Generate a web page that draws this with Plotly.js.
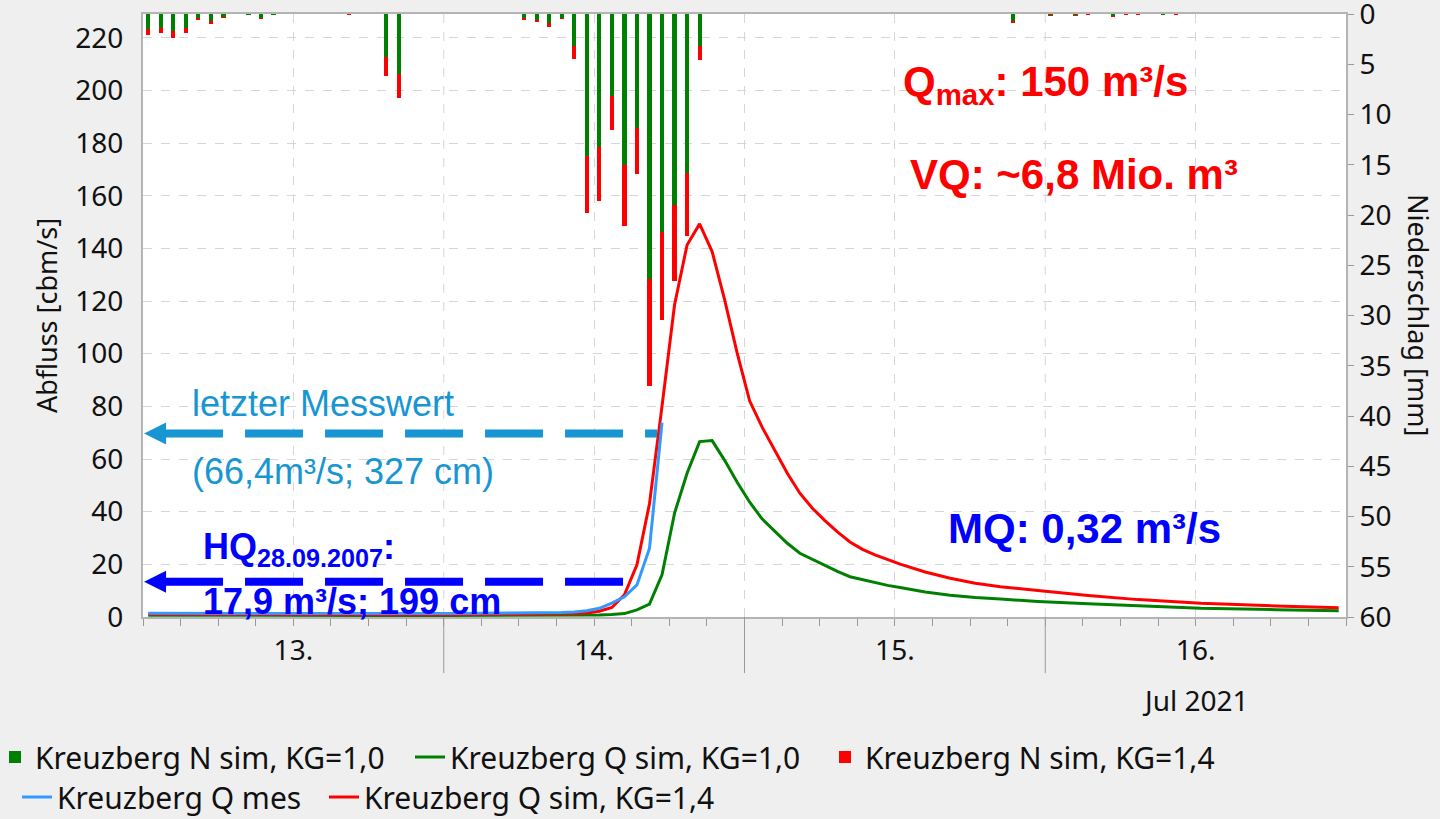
<!DOCTYPE html>
<html>
<head>
<meta charset="utf-8">
<script src="https://cdn.plot.ly/plotly-3.0.1.min.js"></script>
<style>
  html, body { margin: 0; padding: 0; background: #efefef; }
  #chart { width: 1440px; height: 819px; }
</style>
</head>
<body>
<div id="chart"></div>
<script>
// ---------------- data ----------------
// hours after 13 Jul 2021 00:00 (series are stamped at hh:25)
const rainHours = [0, 1, 2, 3, 4, 5, 6, 8, 9, 10, 16, 19, 20,
                   30, 31, 32, 33, 34, 35, 36, 37, 38, 39, 40, 41, 42, 43, 44,
                   69, 72, 74, 75, 77, 78, 79, 81, 82];
// precipitation [mm] KG = 1.4 (red)
const rainKG14 = [2.1, 1.9, 2.35, 1.9, 0.6, 1.0, 0.37, 0.1, 0.53, 0.13, 0.05, 6.2, 8.4,
                  0.6, 0.8, 1.26, 0.5, 4.5, 19.8, 18.6, 11.5, 21.1, 15.9, 37.0, 30.4, 26.6, 22.1, 4.6,
                  0.9, 0.15, 0.15, 0.05, 0.3, 0.05, 0.05, 0.1, 0.05];
// precipitation [mm] KG = 1.0 (green)
const rainKG10 = [1.5, 1.35, 1.7, 1.36, 0.4, 0.7, 0.25, 0.07, 0.36, 0.09, 0.04, 4.3, 6.0,
                  0.43, 0.55, 0.93, 0.37, 3.2, 14.1, 13.2, 8.2, 15.0, 11.3, 26.4, 21.7, 19.0, 15.8, 3.2,
                  0.65, 0.1, 0.1, 0.04, 0.2, 0.04, 0.04, 0.07, 0.04];

const qHours = [0, 6, 12, 18, 24, 28, 30, 32, 33, 34,
                35, 36, 37, 38, 39, 40, 41, 42, 43, 44, 45, 46, 47, 48, 49, 50, 51, 52, 53, 54, 55, 56, 57, 58, 59, 60,
                62, 64, 66, 68, 71, 75, 79, 84, 90, 95];
// discharge [m3/s] simulated, KG = 1.4 (red)
const qSimKG14 = [1.0, 0.9, 0.9, 0.9, 0.9, 1.0, 1.0, 1.1, 1.2, 1.3,
                  1.5, 2.2, 3.6, 8.4, 19.8, 43, 80, 118.5, 141.3, 149.3,
                  138.8, 120.4, 100.2, 82, 72, 63, 54.6, 47, 41.3, 36.6,
                  32.3, 28.5, 25.7, 23.6, 21.8, 20.1,
                  17.1, 14.7, 12.8, 11.5, 10.1, 8.2, 6.6, 5.2, 4.2, 3.5];
// discharge [m3/s] simulated, KG = 1.0 (green)
const qSimKG10 = [0.7, 0.6, 0.6, 0.6, 0.6, 0.6, 0.6, 0.6, 0.65, 0.7,
                  0.75, 0.8, 0.95, 1.3, 2.7, 4.9, 16, 39.4, 54.6, 66.6,
                  67, 59.5, 51.2, 43.6, 37.2, 32.5, 28, 24.2, 21.8, 19.5,
                  17.3, 15.3, 14.2, 13.1, 12.0, 11.2,
                  9.5, 8.3, 7.4, 6.8, 5.9, 5.0, 4.3, 3.3, 2.8, 2.4];
// measured discharge [m3/s] (blue), ends at the last measurement
const qMesHours = [0, 6, 12, 18, 24, 28, 30, 32, 33, 34, 35, 36, 37, 38, 39, 40, 41];
const qMes = [1.4, 1.3, 1.3, 1.3, 1.3, 1.4, 1.5, 1.6, 1.7, 1.9, 2.4, 3.3, 5.3, 7.7, 12.2, 26, 73.8];

// reference levels drawn as arrows [m3/s]
const lastMeasLevel = 69.7;
const hqLevel = 13.4;

// axis labels
const dayStarts = ['2021-07-13', '2021-07-14', '2021-07-15', '2021-07-16'];
const dayLabels = ['13.', '14.', '15.', '16.'];
const leftTicks = [0, 20, 40, 60, 80, 100, 120, 140, 160, 180, 200, 220];
const rightTicks = [0, 5, 10, 15, 20, 25, 30, 35, 40, 45, 50, 55, 60];

// ---------------- helpers ----------------
const T0 = Date.UTC(2021, 6, 13, 0, 25);
function pad(n) { return (n < 10 ? '0' : '') + n; }
function hourToDate(h) {
  const d = new Date(T0 + h * 3600000);
  return d.getUTCFullYear() + '-' + pad(d.getUTCMonth() + 1) + '-' + pad(d.getUTCDate()) + ' ' +
         pad(d.getUTCHours()) + ':' + pad(d.getUTCMinutes()) + ':' + pad(d.getUTCSeconds());
}

const FONT = 'Noto Sans, sans-serif';
const ARIAL = 'Liberation Sans, Arial, sans-serif';
const GREEN = '#008000';
const RED = '#ff0000';
const BLUE = '#3399ff';
const LBLUE = '#1796d3';
const DBLUE = '#0000ff';

// ---------------- traces ----------------
const traces = [
  {
    type: 'bar', name: 'Kreuzberg N sim, KG=1,4',
    x: rainHours.map(hourToDate), y: rainKG14, yaxis: 'y2',
    width: 1.2e6, marker: { color: RED, line: { width: 0 } },
    legend: 'legend', legendrank: 3, hoverinfo: 'skip'
  },
  {
    type: 'bar', name: 'Kreuzberg N sim, KG=1,0',
    x: rainHours.map(hourToDate), y: rainKG10, yaxis: 'y2',
    width: 1.2e6, marker: { color: GREEN, line: { width: 0 } },
    legend: 'legend', legendrank: 1, hoverinfo: 'skip'
  },
  {
    type: 'scatter', mode: 'lines', name: 'Kreuzberg Q sim, KG=1,0',
    x: qHours.map(hourToDate), y: qSimKG10,
    line: { color: GREEN, width: 3 },
    legend: 'legend', legendrank: 2
  },
  {
    type: 'scatter', mode: 'lines', name: 'Kreuzberg Q sim, KG=1,4',
    x: qHours.map(hourToDate), y: qSimKG14,
    line: { color: RED, width: 3 },
    legend: 'legend3'
  },
  {
    type: 'scatter', mode: 'lines', name: 'Kreuzberg Q mes',
    x: qMesHours.map(hourToDate), y: qMes,
    line: { color: BLUE, width: 3 },
    legend: 'legend2'
  }
];

// ---------------- shapes ----------------
const shapes = [];
// day boundaries: dashed grid line + long tick below the axis
dayStarts.slice(1).forEach(d => {
  shapes.push({ type: 'line', xref: 'x', yref: 'paper', x0: d, x1: d, y0: 0, y1: 1,
                line: { color: '#d6d6d6', width: 1, dash: 'dash' }, layer: 'below' });
  shapes.push({ type: 'line', xref: 'x', yref: 'paper', x0: d, x1: d, y0: 0, y1: -0.093,
                line: { color: '#999999', width: 1 } });
});
// dashed arrows (tip at left edge of the plot)
function arrow(level, color, lenPx) {
  shapes.push({ type: 'line', xref: 'x', yref: 'y', xsizemode: 'pixel', xanchor: '2021-07-13 00:05',
                x0: 21, x1: lenPx, y0: level, y1: level,
                line: { color: color, width: 8, dash: '58px,22px' } });
  shapes.push({ type: 'path', xref: 'x', yref: 'y', xsizemode: 'pixel', ysizemode: 'pixel',
                xanchor: '2021-07-13 00:05', yanchor: level,
                path: 'M0,0 L22,11 L22,-11 Z', fillcolor: color, line: { color: color, width: 0 } });
}
arrow(lastMeasLevel, LBLUE, 513);
arrow(hqLevel, DBLUE, 479);

// ---------------- annotations ----------------
function px2x(px) { return (px - 143) / 1203; }
function py2y(py) { return (617 - py) / 603; }
function txt(text, pxL, pyC, size, color, bold, family) {
  return { text: bold ? '<b>' + text + '</b>' : text, xref: 'paper', yref: 'paper',
           x: px2x(pxL), y: py2y(pyC), xanchor: 'left', yanchor: 'middle', showarrow: false,
           font: { family: family || ARIAL, size: size, color: color } };
}
const annotations = [
  txt('Q<sub>max</sub>: 150 m³/s', 901, 84, 42, RED, true),
  txt('VQ: ~6,8 Mio. m³', 908, 174, 42, RED, true),
  txt('MQ: 0,32 m³/s', 946, 528, 42, DBLUE, true),
  txt('letzter Messwert', 190, 404, 36, LBLUE, false),
  txt('(66,4m³/s; 327 cm)', 190, 471, 36, LBLUE, false),
  txt('HQ<sub>28.09.2007</sub>:', 201, 549, 36, DBLUE, true),
  txt('17,9 m³/s; 199 cm', 201, 601, 36, DBLUE, true),
  { text: 'Jul 2021', xref: 'x', yref: 'paper', x: '2021-07-16 12:00', y: py2y(700),
    xanchor: 'center', yanchor: 'middle', showarrow: false,
    font: { family: FONT, size: 28, color: '#111' } },
  { text: 'Niederschlag [mm]', xref: 'paper', yref: 'paper', x: px2x(1418), y: py2y(315),
    xanchor: 'center', yanchor: 'middle', textangle: 90, showarrow: false,
    font: { family: FONT, size: 27, color: '#111' } }
];

// ---------------- layout ----------------
const axisFont = { family: FONT, size: 28, color: '#111' };
const legendFont = { family: FONT, size: 30, color: '#111' };
function legendAt(pxLeft, pyCenter, extra) {
  return Object.assign({
    orientation: 'h',
    x: px2x(pxLeft), xanchor: 'left', y: py2y(pyCenter), yanchor: 'middle',
    font: legendFont, bgcolor: 'rgba(0,0,0,0)',
    itemwidth: 30, traceorder: 'normal'
  }, extra || {});
}
const layout = {
  width: 1440, height: 819,
  margin: { l: 143, r: 94, t: 14, b: 202, pad: 0, autoexpand: false },
  paper_bgcolor: '#efefef', plot_bgcolor: '#ffffff',
  barmode: 'overlay', bargap: 0,
  showlegend: true,
  hovermode: false,
  xaxis: {
    type: 'date', automargin: false,
    range: ['2021-07-13 00:00', '2021-07-17 00:00'],
    tickmode: 'array',
    tickvals: dayStarts.map(d => d + ' 12:00'),
    ticktext: dayLabels,
    ticks: 'outside', ticklen: 7, tickcolor: '#999', tickwidth: 1,
    ticklabelstandoff: 0,
    tickfont: axisFont,
    showgrid: true, gridcolor: '#d6d6d6', griddash: 'dash', gridwidth: 1,
    minor: { dtick: 10800000, tick0: '2021-07-13', ticks: 'outside', ticklen: 7,
             tickcolor: '#999', tickwidth: 1, showgrid: false },
    showline: true, linecolor: '#b4b4b4', linewidth: 2, mirror: true,
    zeroline: false, fixedrange: true
  },
  yaxis: {
    automargin: false,
    range: [0, 229],
    tickmode: 'array', tickvals: leftTicks,
    ticks: '', ticklabelstandoff: 12,
    tickfont: axisFont,
    showgrid: true, gridcolor: '#d6d6d6', griddash: 'dash', gridwidth: 1,
    showline: true, linecolor: '#b4b4b4', linewidth: 2,
    zeroline: false,
    title: { text: 'Abfluss [cbm/s]', font: { family: FONT, size: 27, color: '#111' }, standoff: 10 }
  },
  yaxis2: {
    automargin: false,
    overlaying: 'y', side: 'right',
    range: [60, 0],
    tickmode: 'array', tickvals: rightTicks,
    ticks: 'outside', ticklen: 6, tickcolor: '#999',
    ticklabeloverflow: 'allow',
    tickfont: axisFont,
    showgrid: false, zeroline: false,
    showline: true, linecolor: '#b4b4b4', linewidth: 2
  },
  legend: legendAt(-5, 757, { entrywidth: 370 }),
  legend2: legendAt(17, 797),
  legend3: legendAt(324, 797),
  shapes: shapes,
  annotations: annotations
};

Plotly.newPlot('chart', traces, layout, { staticPlot: true, displayModeBar: false });
</script>
</body>
</html>
